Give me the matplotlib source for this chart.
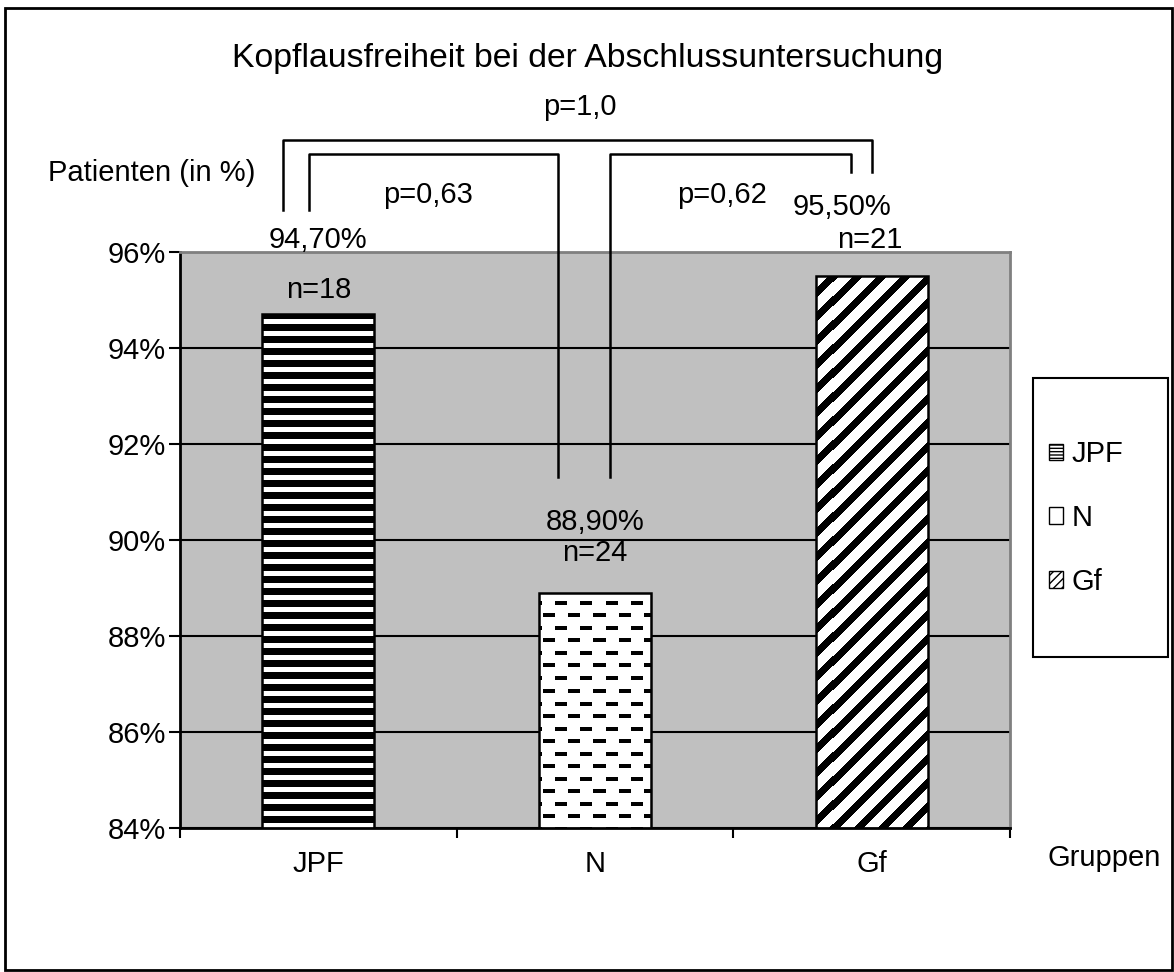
import matplotlib
matplotlib.use("Agg")
import matplotlib.pyplot as plt
import matplotlib.patches as mpatches
from matplotlib.lines import Line2D
import numpy as np

plt.rcParams["font.family"] = ["Liberation Sans", "DejaVu Sans"]

# ── Data ──────────────────────────────────────────────────────────────────────
GROUPS = ["JPF", "N", "Gf"]
PCT = [94.7, 88.9, 95.5]
PCT_LABELS = ["94,70%", "88,90%", "95,50%"]
N_LABELS = ["n=18", "n=24", "n=21"]
P_LABELS = ["p=1,0", "p=0,63", "p=0,62"]
YTICKS = [84, 86, 88, 90, 92, 94, 96]

W, H = 1174, 972
fig = plt.figure(figsize=(W / 100, H / 100), dpi=100)


def fx(x):
    return x / W


def fy(y):
    return 1 - y / H


# plot area in pixels
L, R, T, B = 180, 1010, 252, 828
ax = fig.add_axes([fx(L), fy(B), (R - L) / W, (B - T) / H])
ax.set_facecolor("#c0c0c0")

x = np.arange(len(GROUPS))
bars = ax.bar(x, PCT, width=0.405, facecolor="none", edgecolor="black",
              linewidth=1.8, zorder=3)

# textures (pixel patterns clipped to each bar)
aw, ah = R - L, B - T
yy, xx = np.mgrid[0:ah, 0:aw]
tex_jpf = ((yy % 12) >= 7).astype(float)
row_a = ((yy % 25) < 4) & ((xx % 25) < 12)
row_b = (((yy - 12) % 25) < 4) & (((xx + 12) % 25) < 12)
tex_n = (~(row_a | row_b)).astype(float)
tex_gf = (((xx + yy) % 24) >= 10).astype(float)

for bar, tex in zip(bars, [tex_jpf, tex_n, tex_gf]):
    im = ax.imshow(tex, cmap="gray", vmin=0, vmax=1, origin="upper",
                   extent=(-0.5, 2.5, 84, 96), interpolation="nearest",
                   aspect="auto", zorder=2)
    im.set_clip_path(bar)

ax.set_xlim(-0.5, 2.5)
ax.set_ylim(84, 96)

# grid / spines
ax.yaxis.grid(True, color="black", linewidth=1.5)
ax.set_axisbelow(True)
for s in ["left", "bottom"]:
    ax.spines[s].set_color("black")
    ax.spines[s].set_linewidth(2)
for s in ["top", "right"]:
    ax.spines[s].set_color("#808080")
    ax.spines[s].set_linewidth(2)

ax.set_yticks(YTICKS)
ax.set_yticklabels([f"{v}%" for v in YTICKS])
ax.tick_params(axis="y", direction="out", length=8, width=1.5, pad=2,
               labelsize=21)
ax.set_xticks([-0.5, 0.5, 1.5, 2.5])
ax.set_xticklabels([])
ax.set_xticks(x, minor=True)
ax.set_xticklabels(GROUPS, minor=True)
ax.tick_params(axis="x", which="major", direction="out", length=7, width=1.5)
ax.tick_params(axis="x", which="minor", length=0, pad=16, labelsize=21)

# value labels
pct_off = [(0.0, 1.55), (0.0, 1.475), (-0.107, 1.44)]
n_off = [(0.0, 0.51), (0.0, 0.83), (-0.006, 0.75)]
for i, v in enumerate(PCT):
    ax.text(x[i] + pct_off[i][0], v + pct_off[i][1], PCT_LABELS[i],
            ha="center", va="center", fontsize=21, clip_on=False, zorder=5)
    ax.text(x[i] + n_off[i][0], v + n_off[i][1], N_LABELS[i],
            ha="center", va="center", fontsize=21, clip_on=False, zorder=5)

# significance brackets
brackets = [
    [(283, 210), (283, 140), (872, 140), (872, 172)],
    [(309, 210), (309, 154), (558, 154), (558, 477)],
    [(610, 477), (610, 154), (851, 154), (851, 172)],
]
for pts in brackets:
    fig.add_artist(Line2D([fx(p[0]) for p in pts], [fy(p[1]) for p in pts],
                          color="black", linewidth=1.8, zorder=10))
p_pos = [(580, 107), (428, 195), (722, 195)]
for lab, (px, py) in zip(P_LABELS, p_pos):
    fig.text(fx(px), fy(py), lab, ha="center", va="center", fontsize=21)

fig.text(fx(588), fy(58), "Kopflausfreiheit bei der Abschlussuntersuchung",
         ha="center", va="center", fontsize=24.3)
fig.text(fx(152), fy(173), "Patienten (in %)", ha="center", va="center",
         fontsize=21)
fig.text(fx(1104), fy(858), "Gruppen", ha="center", va="center", fontsize=21)

# legend
fig.add_artist(mpatches.Rectangle((fx(1033), fy(657)), (1168 - 1033) / W,
                                  (657 - 378) / H, transform=fig.transFigure,
                                  facecolor="white", edgecolor="black",
                                  linewidth=1.5))
handles = [
    mpatches.Patch(facecolor="white", edgecolor="black", hatch="-----"),
    mpatches.Patch(facecolor="white", edgecolor="black"),
    mpatches.Patch(facecolor="white", edgecolor="black", hatch="////"),
]
leg = fig.legend(handles, GROUPS, loc="center left",
                 bbox_to_anchor=(fx(1034), fy(518)), frameon=False,
                 fontsize=21, handlelength=0.5, handleheight=0.5,
                 handletextpad=0.3, labelspacing=1.22, borderpad=0)
leg.set_zorder(11)

# outer frame
fig.add_artist(mpatches.Rectangle((fx(5), fy(970)), (1172 - 5) / W,
                                  (970 - 8) / H, transform=fig.transFigure,
                                  facecolor="none", edgecolor="black",
                                  linewidth=2, zorder=0))

fig.savefig("out.png", dpi=100)
